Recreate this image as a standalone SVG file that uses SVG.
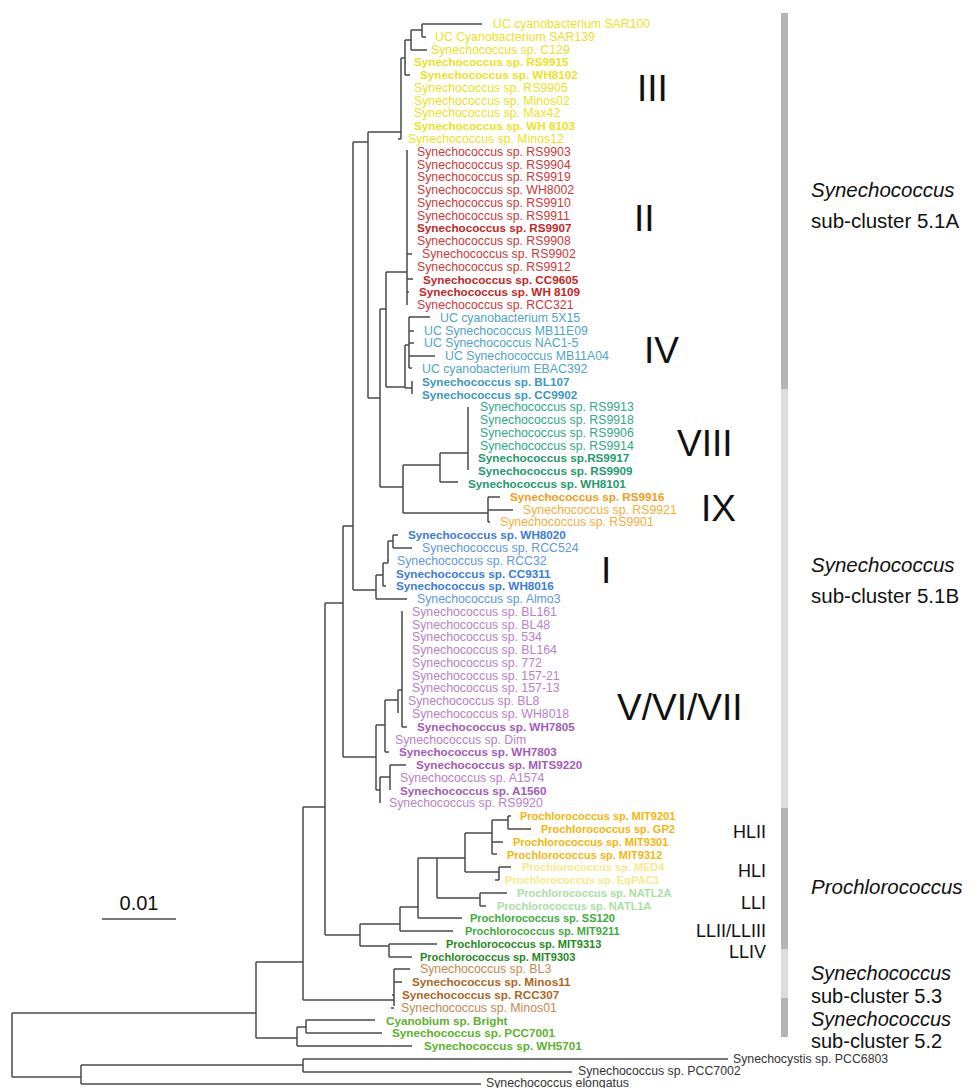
<svg xmlns="http://www.w3.org/2000/svg" width="973" height="1088" viewBox="0 0 973 1088">
<style>
text{font-family:"Liberation Sans",Arial,sans-serif;}
.l{font-size:12.3px;}
.b{font-size:11.7px;font-weight:bold;}
.p{font-size:11px;font-weight:bold;}
.cl{font-size:37px;fill:#111;}
.sl{font-size:18px;fill:#111;text-anchor:end;}
.rl{font-size:20.5px;fill:#111;}
.rs{font-size:20px;fill:#111;}
.it{font-style:italic;}
.br{fill:none;stroke:#4a4a4a;stroke-width:1.5;}
.c3{fill:#ece21c;}
.c2{fill:#cc3838;}
.c2b{fill:#c42626;}
.c4{fill:#4ea4c6;}
.c4b{fill:#3a97bf;}
.c8{fill:#2fa884;}
.c8b{fill:#1e9a6c;}
.c9{fill:#f5ae3a;}
.c9b{fill:#f39c16;}
.c1{fill:#5e97dc;}
.c1b{fill:#3a7cd6;}
.c5{fill:#b780c8;}
.c5b{fill:#a45ab9;}
.hl2{fill:#f4b60a;}
.hl1{fill:#f6e98e;}
.ll1{fill:#a8e0a2;}
.ll2{fill:#3cac3c;}
.ll4{fill:#1c8a1c;}
.s3{fill:#bf8a50;}
.s3b{fill:#ad661c;}
.s2{fill:#5cb22c;}
.og{fill:#333;}
</style>
<g id="bars">
<rect x="781" y="13" width="7" height="376" fill="#b4b4b4"/>
<rect x="781" y="389" width="7" height="419" fill="#dcdcdc"/>
<rect x="781" y="808" width="7" height="141" fill="#b4b4b4"/>
<rect x="781" y="949" width="7" height="49" fill="#dcdcdc"/>
<rect x="781" y="998" width="7" height="39" fill="#b4b4b4"/>
</g>
<g id="connectors" class="br">
<path d="M12 1013V1077M12 1013H256M12 1077H81M81 1065V1084M81 1084H481M81 1065H303M303 1059V1072M303 1059H728M303 1072H572"/>
<path d="M256 962V1038M256 1038H297M297 1027V1046M297 1046H412M297 1027H306M306 1020V1033M306 1020H375M306 1033H382"/>
<path d="M256 962H303M303 807V1000M303 1000H394M394 969V1006M394 969H410M394 982H402M394 995H392M394 1008H391"/>
<path d="M303 807H325M325 603V935M325 603H343M343 526V757M343 526H353M353 142V590"/>
<path d="M353 142H368M368 132V398M368 132H401M401 58V139M401 58H405M405 40V75M405 40H411M411 30V50M411 30H422M422 24V37M422 24H482M422 37H426M411 50H427M405 62H406M405 75H410M401 139H398"/>
<path d="M368 398H380M380 309V487M380 309H386M386 272V387M386 272H407M407 150V305M407 279H413M407 292H409M407 254H412"/>
<path d="M386 387H405M405 345V388M405 345H409M409 317V368M409 317H430M409 331H414M409 343H414M409 356H435M409 368H412M405 388H412M412 381V394"/>
<path d="M380 487H403M403 465V513M403 465H440M440 453V482M440 453H468M468 407V470M440 482H458M403 513H488M488 497V522M488 497H500M488 510H513M488 522H490"/>
<path d="M353 590H376M376 575V599M376 599H407M376 575H383M383 563V586M383 563H388M388 541V563M388 541H393M393 535V548M393 535H398M393 548H412M388 560H387M383 586H386"/>
<path d="M343 757H376M376 725V790M376 725H385M385 700V752M385 752H389M385 700H398M398 690V713M398 690H402M402 611V727M402 727H407M376 790H380M380 777V803M380 777H390M390 765V790M390 765H406"/>
<path d="M325 935H360M360 924V946M360 946H389M389 944V957M389 944H437M389 957H412M360 924H400M400 907V931M400 931H453M400 907H418M418 858V918M418 918H462M418 858H465M437 858V898M437 898H480M480 893V906M480 893H507M480 906H486M465 833V872M465 872H499M499 867V880M499 867H511M499 880H495M465 833H492M492 820V854M492 820H508M508 816V829M508 816H511M508 829H531M492 842H503M492 854H497"/>
</g>
<g id="n1"><text x="493" y="28" class="l c3">UC cyanobacterium SAR100</text></g>
<g id="n2"><text x="435" y="41" class="l c3">UC Cyanobacterium SAR139</text></g>
<g id="n3"><text x="431" y="54" class="l c3">Synechococcus sp. C129</text></g>
<g id="n4"><text x="414" y="66" class="b c3">Synechococcus sp. RS9915</text></g>
<g id="n5"><text x="420" y="79" class="b c3">Synechococcus sp. WH8102</text></g>
<g id="n6"><text x="414" y="92" class="l c3">Synechococcus sp. RS9905</text></g>
<g id="n7"><text x="414" y="105" class="l c3">Synechococcus sp. Minos02</text></g>
<g id="n8"><text x="414" y="117" class="l c3">Synechococcus sp. Max42</text></g>
<g id="n9"><text x="414" y="130" class="b c3">Synechococcus sp. WH 8103</text></g>
<g id="n10"><text x="408" y="143" class="l c3">Synechococcus sp. Minos12</text></g>
<g id="n11"><text x="417" y="156" class="l c2">Synechococcus sp. RS9903</text></g>
<g id="n12"><text x="417" y="169" class="l c2">Synechococcus sp. RS9904</text></g>
<g id="n13"><text x="417" y="181" class="l c2">Synechococcus sp. RS9919</text></g>
<g id="n14"><text x="417" y="194" class="l c2">Synechococcus sp. WH8002</text></g>
<g id="n15"><text x="417" y="207" class="l c2">Synechococcus sp. RS9910</text></g>
<g id="n16"><text x="417" y="220" class="l c2">Synechococcus sp. RS9911</text></g>
<g id="n17"><text x="417" y="232" class="b c2b">Synechococcus sp. RS9907</text></g>
<g id="n18"><text x="417" y="245" class="l c2">Synechococcus sp. RS9908</text></g>
<g id="n19"><text x="422" y="258" class="l c2">Synechococcus sp. RS9902</text></g>
<g id="n20"><text x="417" y="271" class="l c2">Synechococcus sp. RS9912</text></g>
<g id="n21"><text x="423" y="284" class="b c2b">Synechococcus sp. CC9605</text></g>
<g id="n22"><text x="419" y="296" class="b c2b">Synechococcus sp. WH 8109</text></g>
<g id="n23"><text x="417" y="309" class="l c2">Synechococcus sp. RCC321</text></g>
<g id="n24"><text x="440" y="322" class="l c4">UC cyanobacterium 5X15</text></g>
<g id="n25"><text x="424" y="335" class="l c4">UC Synechococcus MB11E09</text></g>
<g id="n26"><text x="424" y="347" class="l c4">UC Synechococcus NAC1-5</text></g>
<g id="n27"><text x="445" y="360" class="l c4">UC Synechococcus MB11A04</text></g>
<g id="n28"><text x="422" y="373" class="l c4">UC cyanobacterium EBAC392</text></g>
<g id="n29"><text x="422" y="386" class="b c4b">Synechococcus sp. BL107</text></g>
<g id="n30"><text x="422" y="399" class="b c4b">Synechococcus sp. CC9902</text></g>
<g id="n31"><text x="480" y="411" class="l c8">Synechococcus sp. RS9913</text></g>
<g id="n32"><text x="480" y="424" class="l c8">Synechococcus sp. RS9918</text></g>
<g id="n33"><text x="480" y="437" class="l c8">Synechococcus sp. RS9906</text></g>
<g id="n34"><text x="480" y="450" class="l c8">Synechococcus sp. RS9914</text></g>
<g id="n35"><text x="478" y="462" class="b c8b">Synechococcus sp.RS9917</text></g>
<g id="n36"><text x="478" y="475" class="b c8b">Synechococcus sp. RS9909</text></g>
<g id="n37"><text x="468" y="488" class="b c8b">Synechococcus sp. WH8101</text></g>
<g id="n38"><text x="510" y="501" class="b c9b">Synechococcus sp. RS9916</text></g>
<g id="n39"><text x="523" y="514" class="l c9">Synechococcus sp. RS9921</text></g>
<g id="n40"><text x="500" y="526" class="l c9">Synechococcus sp. RS9901</text></g>
<g id="n41"><text x="408" y="539" class="b c1b">Synechococcus sp. WH8020</text></g>
<g id="n42"><text x="422" y="552" class="l c1">Synechococcus sp. RCC524</text></g>
<g id="n43"><text x="397" y="565" class="l c1">Synechococcus sp. RCC32</text></g>
<g id="n44"><text x="396" y="578" class="b c1b">Synechococcus sp. CC9311</text></g>
<g id="n45"><text x="396" y="590" class="b c1b">Synechococcus sp. WH8016</text></g>
<g id="n46"><text x="417" y="603" class="l c1">Synechococcus sp. Almo3</text></g>
<g id="n47"><text x="412" y="616" class="l c5">Synechococcus sp. BL161</text></g>
<g id="n48"><text x="412" y="629" class="l c5">Synechococcus sp. BL48</text></g>
<g id="n49"><text x="412" y="641" class="l c5">Synechococcus sp. 534</text></g>
<g id="n50"><text x="412" y="654" class="l c5">Synechococcus sp. BL164</text></g>
<g id="n51"><text x="412" y="667" class="l c5">Synechococcus sp. 772</text></g>
<g id="n52"><text x="412" y="680" class="l c5">Synechococcus sp. 157-21</text></g>
<g id="n53"><text x="412" y="692" class="l c5">Synechococcus sp. 157-13</text></g>
<g id="n54"><text x="408" y="705" class="l c5">Synechococcus sp. BL8</text></g>
<g id="n55"><text x="412" y="718" class="l c5">Synechococcus sp. WH8018</text></g>
<g id="n56"><text x="417" y="731" class="b c5b">Synechococcus sp. WH7805</text></g>
<g id="n57"><text x="395" y="744" class="l c5">Synechococcus sp. Dim</text></g>
<g id="n58"><text x="399" y="756" class="b c5b">Synechococcus sp. WH7803</text></g>
<g id="n59"><text x="416" y="769" class="b c5b">Synechococcus sp. MITS9220</text></g>
<g id="n60"><text x="400" y="782" class="l c5">Synechococcus sp. A1574</text></g>
<g id="n61"><text x="400" y="795" class="b c5b">Synechococcus sp. A1560</text></g>
<g id="n62"><text x="389" y="807" class="l c5">Synechococcus sp. RS9920</text></g>
<g id="n63"><text x="520" y="820" class="p hl2">Prochlorococcus sp. MIT9201</text></g>
<g id="n64"><text x="541" y="833" class="p hl2">Prochlorococcus sp. GP2</text></g>
<g id="n65"><text x="513" y="846" class="p hl2">Prochlorococcus  sp. MIT9301</text></g>
<g id="n66"><text x="507" y="859" class="p hl2">Prochlorococcus sp. MIT9312</text></g>
<g id="n67"><text x="522" y="871" class="p hl1">Prochlorococcus sp. MED4</text></g>
<g id="n68"><text x="505" y="884" class="p hl1">Prochlorococcus sp. EqPAC1</text></g>
<g id="n69"><text x="517" y="897" class="p ll1">Prochlorococcus sp. NATL2A</text></g>
<g id="n70"><text x="497" y="910" class="p ll1">Prochlorococcus sp. NATL1A</text></g>
<g id="n71"><text x="470" y="922" class="p ll2">Prochlorococcus  sp. SS120</text></g>
<g id="n72"><text x="465" y="935" class="p ll2">Prochlorococcus  sp. MIT9211</text></g>
<g id="n73"><text x="446" y="948" class="p ll4">Prochlorococcus  sp. MIT9313</text></g>
<g id="n74"><text x="420" y="961" class="p ll4">Prochlorococcus  sp. MIT9303</text></g>
<g id="n75"><text x="420" y="973" class="l s3">Synechococcus sp. BL3</text></g>
<g id="n76"><text x="412" y="986" class="b s3b">Synechococcus sp. Minos11</text></g>
<g id="n77"><text x="402" y="999" class="b s3b">Synechococcus sp. RCC307</text></g>
<g id="n78"><text x="401" y="1012" class="l s3">Synechococcus sp. Minos01</text></g>
<g id="n79"><text x="386" y="1025" class="b s2">Cyanobium sp. Bright</text></g>
<g id="n80"><text x="392" y="1037" class="b s2">Synechococcus sp. PCC7001</text></g>
<g id="n81"><text x="424" y="1050" class="b s2">Synechococcus sp. WH5701</text></g>
<g id="n82"><text x="733" y="1063" class="l og">Synechocystis sp. PCC6803</text></g>
<g id="n83"><text x="578" y="1075" class="l og">Synechococcus sp. PCC7002</text></g>
<g id="n84"><text x="486" y="1087" class="l og">Synechococcus elongatus</text></g>
<g id="clades">
<text x="637" y="101" class="cl">III</text>
<text x="634" y="231" class="cl">II</text>
<text x="644" y="363" class="cl">IV</text>
<text x="677" y="456" class="cl">VIII</text>
<text x="701" y="521" class="cl">IX</text>
<text x="601" y="583" class="cl">I</text>
<text x="617" y="720" class="cl">V/VI/VII</text>
<text x="766" y="838" class="sl">HLII</text>
<text x="766" y="877" class="sl">HLI</text>
<text x="766" y="909" class="sl">LLI</text>
<text x="766" y="937" class="sl">LLII/LLIII</text>
<text x="766" y="958" class="sl">LLIV</text>
</g>
<g id="groups">
<text x="811" y="197" class="rl it">Synechococcus</text>
<text x="811" y="228" class="rl">sub-cluster 5.1A</text>
<text x="811" y="572" class="rl it">Synechococcus</text>
<text x="811" y="603" class="rl">sub-cluster 5.1B</text>
<text x="811" y="894" class="rl it">Prochlorococcus</text>
<text x="811" y="980" class="rs it">Synechococcus</text>
<text x="811" y="1003" class="rs">sub-cluster 5.3</text>
<text x="811" y="1025.5" class="rs it">Synechococcus</text>
<text x="811" y="1047.5" class="rs">sub-cluster 5.2</text>
</g>
<g id="scale">
<path d="M102 919H176" class="br"/>
<text x="139" y="910" font-size="20" text-anchor="middle" fill="#111">0.01</text>
</g>
</svg>
